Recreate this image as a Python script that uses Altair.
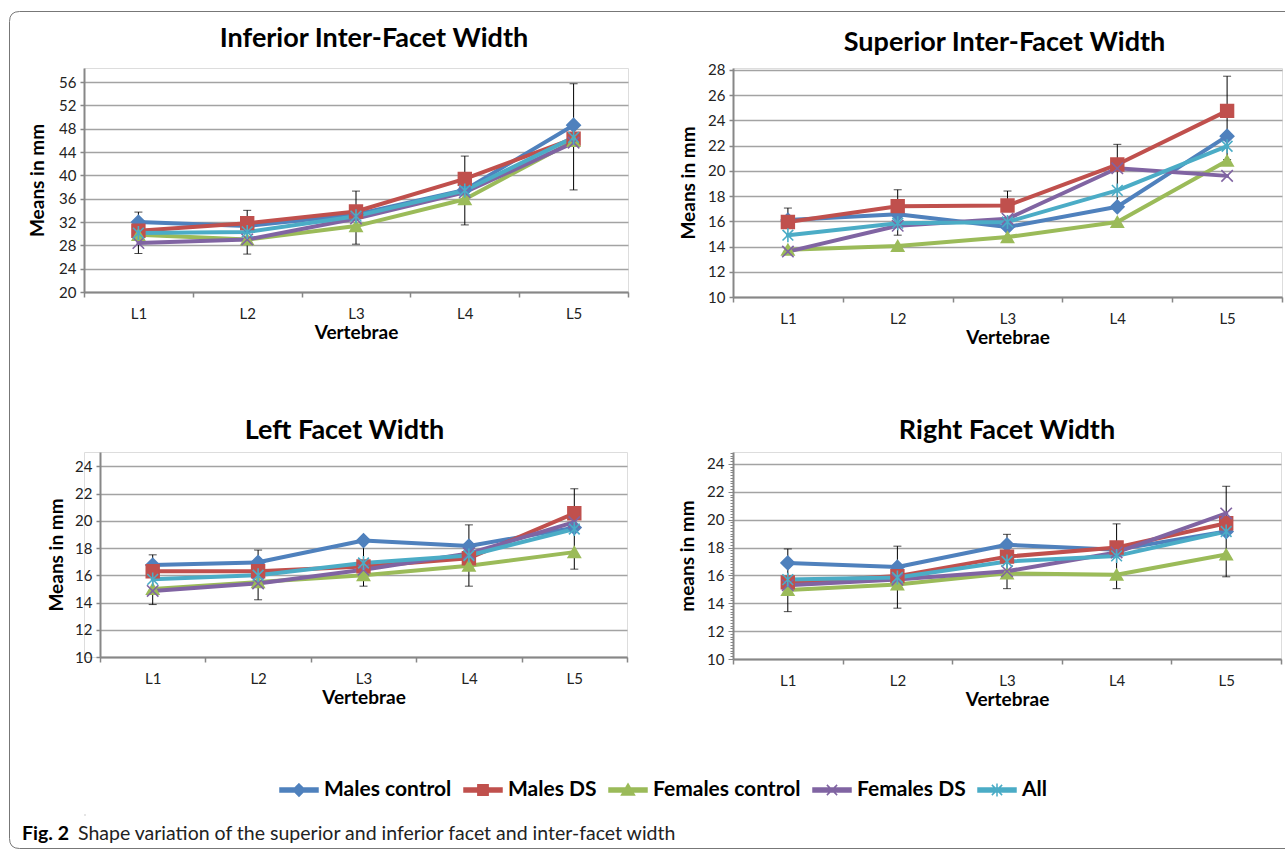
import altair as alt
import pandas as pd

# ---------------- data ----------------
levels = ["L1", "L2", "L3", "L4", "L5"]
series = ["Males control", "Males DS", "Females control", "Females DS", "All"]
colors = ["#4F81BD", "#C0504D", "#9BBB59", "#8064A2", "#4BACC6"]

# Inferior Inter-Facet Width
inf_males_control = [32.0, 31.3, 33.3, 37.5, 48.6]
inf_males_ds = [30.5, 31.8, 33.8, 39.4, 46.3]
inf_females_control = [29.8, 29.0, 31.3, 35.9, 45.9]
inf_females_ds = [28.4, 29.0, 32.6, 37.1, 45.6]
inf_all = [30.1, 30.3, 33.0, 37.4, 46.5]
inf_err_lo = [26.6, 26.5, 28.2, 31.5, 37.5]
inf_err_hi = [33.7, 34.0, 37.3, 43.3, 55.7]

# Superior Inter-Facet Width
sup_males_control = [16.1, 16.55, 15.55, 17.15, 22.75]
sup_males_ds = [15.95, 17.2, 17.25, 20.5, 24.75]
sup_females_control = [13.75, 14.05, 14.75, 15.95, 20.8]
sup_females_ds = [13.6, 15.65, 16.2, 20.2, 19.6]
sup_all = [14.9, 15.85, 15.95, 18.45, 21.95]
sup_err_lo = [16.0, 14.9, 17.25, 17.15, 20.9]
sup_err_hi = [17.05, 18.5, 18.4, 22.1, 27.5]

# Left Facet Width
left_males_control = [16.75, 16.95, 18.55, 18.15, 19.5]
left_males_ds = [16.3, 16.3, 16.65, 17.25, 20.55]
left_females_control = [15.0, 15.5, 16.0, 16.7, 17.7]
left_females_ds = [14.85, 15.4, 16.4, 17.6, 19.9]
left_all = [15.7, 16.0, 16.9, 17.45, 19.4]
left_err_lo = [13.85, 14.2, 15.2, 15.2, 16.45]
left_err_hi = [17.5, 17.85, 18.6, 19.7, 22.35]

# Right Facet Width
right_males_control = [16.9, 16.6, 18.2, 17.85, 19.15]
right_males_ds = [15.5, 15.95, 17.35, 18.0, 19.75]
right_females_control = [14.95, 15.35, 16.15, 16.05, 17.5]
right_females_ds = [15.3, 15.7, 16.3, 17.65, 20.45]
right_all = [15.7, 15.85, 17.0, 17.4, 19.15]
right_err_lo = [13.4, 13.65, 15.05, 15.05, 15.9]
right_err_hi = [17.9, 18.1, 18.95, 19.7, 22.4]

titles = ["Inferior Inter-Facet Width", "Superior Inter-Facet Width",
          "Left Facet Width", "Right Facet Width"]
caption_bold = "Fig. 2"
caption_text = "Shape variation of the superior and inferior facet and inter-facet width"

# ---------------- styling ----------------
FONT = "Lato"
GRID = "#a3a3a3"
AXIS = "#878787"

X_PATH = "M-1,-1L1,1M-1,1L1,-1"
AST_PATH = "M-1,-1L1,1M-1,1L1,-1M0,-1.3L0,1.3"
marker_shapes = ["diamond", "square", "triangle-up", X_PATH, AST_PATH]
marker_sizes = [180, 115, 160, 130, 135]

LINE = "M-1,-0.1H1V0.1H-1Z"
legend_shapes = [
    LINE + "M0,-0.32L0.32,0L0,0.32L-0.32,0Z",
    LINE + "M-0.27,-0.27H0.27V0.27H-0.27Z",
    LINE + "M0,-0.32L0.34,0.26L-0.34,0.26Z",
    LINE + "M-0.27,-0.27L0.27,0.27M-0.27,0.27L0.27,-0.27",
    LINE + "M-0.27,-0.27L0.27,0.27M-0.27,0.27L0.27,-0.27M0,-0.34L0,0.34",
]

cscale = alt.Scale(domain=series, range=colors)
shape_scale = alt.Scale(domain=series, range=marker_shapes)
size_scale = alt.Scale(domain=series, range=marker_sizes)


def build_panel(title, vals, lo, hi, dom, ticks, ytitle, w, h, tdx, toff,
                ytpad, minor=False, inset=0):
    rows = []
    for s, v in zip(series, vals):
        for i, lv in enumerate(levels):
            rows.append({"level": lv, "series": s, "value": v[i]})
    df = pd.DataFrame(rows)
    edf = pd.DataFrame({"level": levels, "lo": lo, "hi": hi})

    xaxis = alt.Axis(title="Vertebrae", tickBand="extent", labelAngle=0,
                     tickSize=5, tickColor=AXIS, tickWidth=1.5,
                     domainColor=AXIS, domainWidth=2, grid=False,
                     labelFont=FONT, labelFontSize=15, labelColor="#222",
                     labelPadding=9, titleFont=FONT, titleFontSize=19,
                     titleFontWeight="bold", titleColor="black",
                     titlePadding=2)
    xscale_kw = dict(type="band", domain=levels, paddingInner=0, paddingOuter=0)
    if inset:
        xscale_kw["range"] = [inset, w]
    xenc = alt.X("level:N", sort=levels, bandPosition=0.5,
                 scale=alt.Scale(**xscale_kw), axis=xaxis)
    yscale = alt.Scale(domain=dom, nice=False, zero=False)
    ykw = dict(values=ticks, title=ytitle, tickColor=AXIS, domainColor=AXIS,
               domainWidth=2, grid=True, gridColor=GRID, gridWidth=1.5,
               labelFont=FONT, labelFontSize=15, labelColor="#222",
               labelPadding=4, titleFont=FONT, titleFontSize=19,
               titleFontWeight="bold", titleColor="black", titlePadding=ytpad)
    if inset:
        ykw["offset"] = -inset
    if minor:
        is_major = "abs(datum.value - 2*round(datum.value/2)) < 0.01"
        ykw.update(labelExpr="(" + is_major + ") ? format(datum.value, 'd') : ''",
                   labelOverlap=False,
                   tickSize={"condition": {"test": is_major, "value": 5}, "value": 3},
                   gridOpacity={"condition": {"test": is_major, "value": 1}, "value": 0},
                   tickWidth=1)
    else:
        ykw.update(tickSize=4, tickWidth=1.5)
    yaxis = alt.Axis(**ykw)

    err = alt.Chart(edf)
    rule = err.mark_rule(color="black", strokeWidth=1).encode(
        x=xenc, y=alt.Y("lo:Q", scale=yscale, axis=yaxis), y2="hi:Q")
    cap_lo = err.mark_tick(color="black", size=8, thickness=1,
                           orient="horizontal").encode(
        x=xenc, y=alt.Y("lo:Q", scale=yscale, axis=yaxis))
    cap_hi = err.mark_tick(color="black", size=8, thickness=1,
                           orient="horizontal").encode(
        x=xenc, y=alt.Y("hi:Q", scale=yscale, axis=yaxis))

    line = alt.Chart(df).mark_line(strokeWidth=4, strokeJoin="round",
                                   strokeCap="round").encode(
        x=xenc, y=alt.Y("value:Q", scale=yscale, axis=yaxis),
        color=alt.Color("series:N", sort=series, scale=cscale, legend=None),
        detail="series:N")
    pts = alt.Chart(df).mark_point(filled=True, strokeWidth=1.6,
                                   opacity=1).encode(
        x=xenc, y=alt.Y("value:Q", scale=yscale, axis=yaxis),
        fill=alt.Fill("series:N", sort=series, scale=cscale, legend=None),
        stroke=alt.Stroke("series:N", sort=series, scale=cscale, legend=None),
        shape=alt.Shape("series:N", sort=series, scale=shape_scale, legend=None),
        size=alt.Size("series:O", sort=series, scale=size_scale, legend=None))

    return alt.layer(rule, cap_lo, cap_hi, line, pts).properties(
        width=w, height=h,
        title=alt.TitleParams(title, dx=tdx, offset=toff, font=FONT,
                              fontSize=27, fontWeight="bold", color="black"))


p1 = build_panel(titles[0],
                 [inf_males_control, inf_males_ds, inf_females_control, inf_females_ds, inf_all],
                 inf_err_lo, inf_err_hi, [20, 58.4], list(range(20, 57, 4)),
                 "Means in mm", 544, 224, 18, 15, 11)
p2 = build_panel(titles[1],
                 [sup_males_control, sup_males_ds, sup_females_control, sup_females_ds, sup_all],
                 sup_err_lo, sup_err_hi, [10, 28.15], list(range(10, 29, 2)),
                 "Means in mm", 549, 229, -3, 6, 9)
p3 = build_panel(titles[2],
                 [left_males_control, left_males_ds, left_females_control, left_females_ds, left_all],
                 left_err_lo, left_err_hi, [10, 25.05], list(range(10, 25, 2)),
                 "Means in mm", 543, 205, -11, 7, 8, inset=16)
minor_vals = [round(10 + 0.2 * i, 1) for i in range(75)]
p4 = build_panel(titles[3],
                 [right_males_control, right_males_ds, right_females_control, right_females_ds, right_all],
                 right_err_lo, right_err_hi, [10, 24.86], minor_vals,
                 "means in mm", 548, 207, 0, 1, 9, minor=True)

# ---------------- footer: legend, caption, frame ----------------
OX, OY = 84, 814  # footer view origin on the page
frame_path = (
    f"M{1285 - OX},{11.5 - OY}H{19.5 - OX}"
    f"Q{9.5 - OX},{11.5 - OY} {9.5 - OX},{21.5 - OY}"
    f"V{838.5 - OY}Q{9.5 - OX},{848.5 - OY} {19.5 - OX},{848.5 - OY}H{1285 - OX}"
)

leg_legend = alt.Legend(orient="none", legendX=279 - OX, legendY=770 - OY,
                        direction="horizontal", title=None,
                        labelFont=FONT, labelFontSize=21,
                        labelFontWeight="bold", labelColor="black",
                        symbolSize=1444, symbolStrokeWidth=1.5,
                        symbolOpacity=1, labelOffset=5, columnPadding=9)
leg_df = pd.DataFrame({"series": series})
legend_chart = alt.Chart(leg_df).transform_filter("false").mark_point(
    filled=True, opacity=0).encode(
    x=alt.value(0), y=alt.value(0),
    shape=alt.Shape("series:N", sort=series,
                    scale=alt.Scale(domain=series, range=legend_shapes),
                    legend=leg_legend),
    fill=alt.Fill("series:N", sort=series, scale=cscale, legend=leg_legend),
    stroke=alt.Stroke("series:N", sort=series, scale=cscale, legend=leg_legend))

cap_df = pd.DataFrame({"bold": [caption_bold], "text": [caption_text]})
cap1 = alt.Chart(cap_df).mark_text(align="left", baseline="middle",
                                   font=FONT, fontSize=19.5, fontWeight="bold",
                                   color="black").encode(
    x=alt.value(22 - OX), y=alt.value(834 - OY), text="bold:N")
cap2 = alt.Chart(cap_df).mark_text(align="left", baseline="middle",
                                   font=FONT, fontSize=19.5, color="#222").encode(
    x=alt.value(78 - OX), y=alt.value(834 - OY), text="text:N")
frame = alt.Chart(pd.DataFrame({"a": [0]})).mark_point(
    shape=frame_path, size=4, filled=False, stroke="#777777",
    strokeWidth=1, strokeJoin="round", opacity=1).encode(
    x=alt.value(0), y=alt.value(0))

footer = alt.layer(frame, legend_chart, cap1, cap2).properties(width=1, height=1)

chart = alt.concat(p1, p2, p3, p4, footer, columns=2, bounds="flush",
                   align="each", spacing={"row": 155, "column": 105}).resolve_scale(
    fill="independent", stroke="independent", shape="independent",
    size="independent", color="independent").resolve_legend(
    fill="independent", stroke="independent", shape="independent").properties(
    padding={"left": 8, "top": 10, "right": 0, "bottom": 0},
    background="white",
).configure_view(stroke=None).configure(font=FONT)

chart.save("out.html", embed_options={"renderer": "svg", "actions": False})
